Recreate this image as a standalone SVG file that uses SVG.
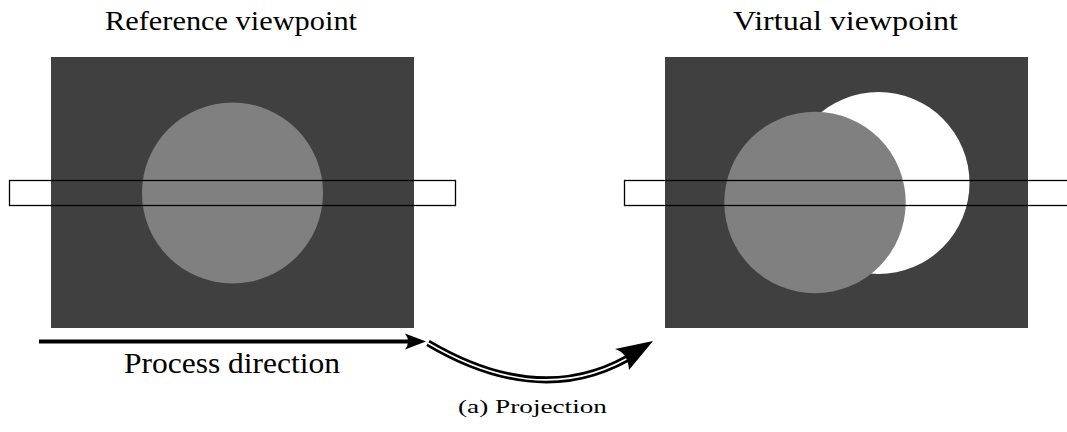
<svg xmlns="http://www.w3.org/2000/svg" width="1067" height="432" viewBox="0 0 1067 432">
<style>
.dark{fill:#404040}
.gray{fill:#808080}
.band{fill:none;stroke:#000;stroke-width:1.3}
.t{font-family:"Liberation Serif","DejaVu Serif",serif;fill:#000}
</style>
<rect width="1067" height="432" fill="#fff"/>
<g id="reference">
<rect class="dark" x="51" y="57" width="363" height="271"/>
<circle class="gray" cx="232.5" cy="193" r="90.5"/>
<rect class="band" x="9.5" y="180.5" width="446" height="25"/>
</g>
<g id="virtual">
<rect class="dark" x="665" y="57" width="363" height="271"/>
<circle fill="#fff" cx="878.5" cy="183" r="91"/>
<circle class="gray" cx="815" cy="202.5" r="90.7"/>
<rect class="band" x="624.5" y="180.5" width="460" height="25"/>
</g>
<g id="labels">
<text class="t" x="105" y="30" font-size="28" textLength="252" lengthAdjust="spacingAndGlyphs">Reference viewpoint</text>
<text class="t" x="733" y="30" font-size="28" textLength="225" lengthAdjust="spacingAndGlyphs">Virtual viewpoint</text>
<text class="t" x="124" y="373" font-size="29" textLength="216" lengthAdjust="spacingAndGlyphs">Process direction</text>
<text class="t" x="458" y="413" font-size="18" textLength="149" lengthAdjust="spacingAndGlyphs">(a) Projection</text>
</g>
<g id="connectors">
<line x1="39" y1="341.5" x2="418" y2="341.5" stroke="#000" stroke-width="4"/>
<path d="M426 341.5 L405 333.5 Q411 341.5 405 349.5 Z" fill="#000"/>
<path d="M428 343 Q545 412 638 352" fill="none" stroke="#000" stroke-width="7"/>
<path d="M428 343 Q545 412 638 352" fill="none" stroke="#fff" stroke-width="1.6"/>
<path d="M653 341 L615 349 Q628 353 629 370 Z" fill="#000"/>
</g>
</svg>
